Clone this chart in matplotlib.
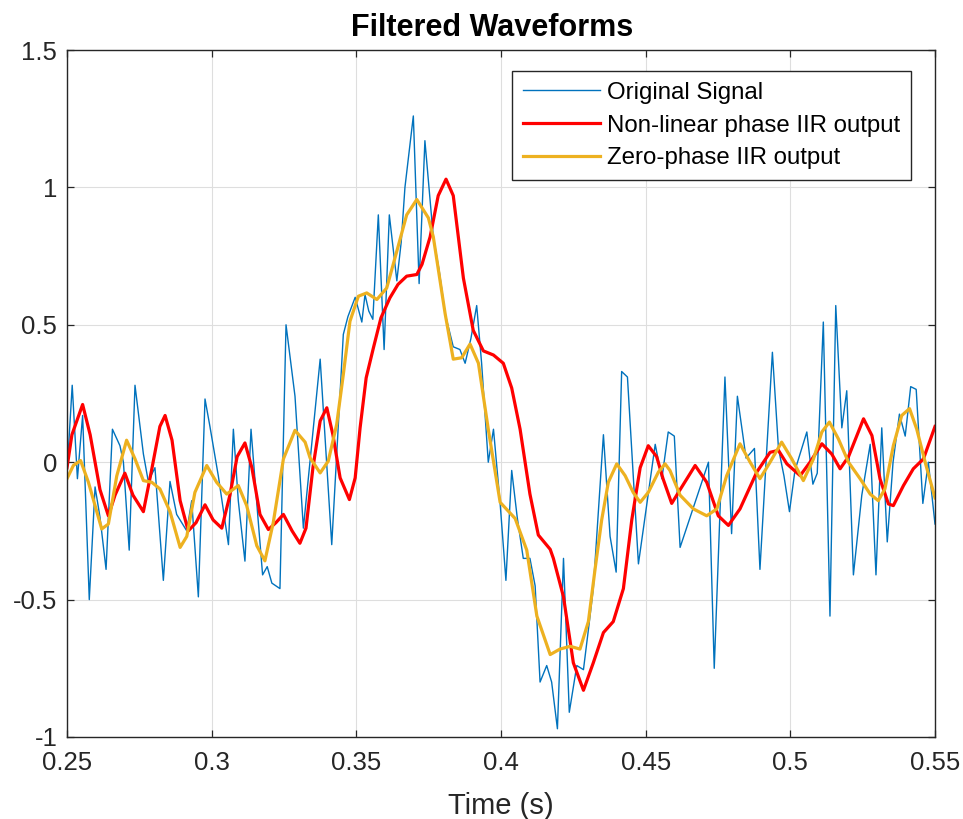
import numpy as np
import matplotlib
matplotlib.use("Agg")
import matplotlib.pyplot as plt

plt.rcParams['font.family'] = ['Liberation Sans', 'DejaVu Sans']
plt.rcParams['axes.unicode_minus'] = False

## Original (noisy) signal
t_orig = [0.2500, 0.2518, 0.2536, 0.2554, 0.2577, 0.2597, 0.2614, 0.2635, 0.2657, 0.2683,
          0.2695, 0.2715, 0.2735, 0.2764, 0.2781, 0.2804, 0.2833, 0.2856, 0.2879, 0.2914,
          0.2931, 0.2954, 0.2977, 0.2994, 0.3023, 0.3058, 0.3075, 0.3092, 0.3115, 0.3136,
          0.3156, 0.3176, 0.3192, 0.3208, 0.3236, 0.3257, 0.3288, 0.3317, 0.3375, 0.3415,
          0.3455, 0.3471, 0.3496, 0.3519, 0.3530, 0.3543, 0.3557, 0.3576, 0.3596, 0.3614,
          0.3640, 0.3655, 0.3668, 0.3697, 0.3717, 0.3737, 0.3766, 0.3786, 0.3807, 0.3835,
          0.3858, 0.3876, 0.3896, 0.3916, 0.3933, 0.3956, 0.3974, 0.3997, 0.4017, 0.4037,
          0.4056, 0.4077, 0.4100, 0.4118, 0.4135, 0.4158, 0.4175, 0.4195, 0.4216, 0.4236,
          0.4262, 0.4285, 0.4302, 0.4319, 0.4354, 0.4377, 0.4398, 0.4417, 0.4437, 0.4475,
          0.4533, 0.4556, 0.4578, 0.4599, 0.4619, 0.4717, 0.4737, 0.4774, 0.4797, 0.4817,
          0.4847, 0.4876, 0.4895, 0.4916, 0.4938, 0.4959, 0.4978, 0.4997, 0.5016, 0.5057,
          0.5078, 0.5093, 0.5114, 0.5137, 0.5157, 0.5178, 0.5195, 0.5218, 0.5247, 0.5276,
          0.5296, 0.5316, 0.5335, 0.5355, 0.5377, 0.5397, 0.5416, 0.5435, 0.5458, 0.5477,
          0.5500]
v_orig = [-0.04, 0.28, -0.06, 0.17, -0.50, -0.09, -0.20, -0.39, 0.12, 0.06,
          0.00, -0.32, 0.28, 0.03, -0.07, -0.02, -0.43, -0.07, -0.19, -0.25,
          -0.14, -0.49, 0.23, 0.13, -0.05, -0.30, 0.12, -0.14, -0.36, 0.12,
          -0.15, -0.41, -0.38, -0.44, -0.46, 0.50, 0.24, -0.24, 0.375, -0.30,
          0.465, 0.53, 0.60, 0.51, 0.61, 0.55, 0.52, 0.90, 0.41, 0.90,
          0.66, 0.80, 1.00, 1.26, 0.65, 1.17, 0.82, 0.70, 0.54, 0.42,
          0.41, 0.36, 0.45, 0.57, 0.36, 0.00, 0.12, -0.15, -0.43, -0.03,
          -0.20, -0.35, -0.35, -0.45, -0.80, -0.74, -0.80, -0.97, -0.35, -0.91,
          -0.74, -0.755, -0.61, -0.46, 0.10, -0.27, -0.40, 0.33, 0.31, -0.37,
          0.065, -0.06, 0.11, 0.095, -0.31, 0.00, -0.75, 0.31, -0.26, 0.24,
          0.015, 0.05, -0.39, 0.00, 0.40, 0.05, -0.05, -0.18, -0.03, 0.11,
          -0.08, -0.04, 0.51, -0.56, 0.57, 0.125, 0.26, -0.41, -0.12, 0.065,
          -0.41, 0.125, -0.29, 0.00, 0.175, 0.095, 0.275, 0.265, -0.15, 0.00,
          -0.225]

## Non-linear phase IIR output
t_iir = [0.2500, 0.2517, 0.2554, 0.2580, 0.2614, 0.2643, 0.2666, 0.2700, 0.2728, 0.2764,
         0.2794, 0.2821, 0.2839, 0.2863, 0.2891, 0.2919, 0.2946, 0.2977, 0.3005, 0.3035,
         0.3063, 0.3088, 0.3115, 0.3139, 0.3167, 0.3196, 0.3222, 0.3248, 0.3278, 0.3305,
         0.3326, 0.3350, 0.3375, 0.3398, 0.3419, 0.3444, 0.3476, 0.3496, 0.3513, 0.3534,
         0.3559, 0.3585, 0.3616, 0.3644, 0.3674, 0.3709, 0.3727, 0.3755, 0.3783, 0.3810,
         0.3835, 0.3870, 0.3904, 0.3939, 0.3974, 0.4008, 0.4037, 0.4066, 0.4100, 0.4129,
         0.4170, 0.4181, 0.4216, 0.4250, 0.4285, 0.4319, 0.4354, 0.4388, 0.4423, 0.4452,
         0.4481, 0.4509, 0.4538, 0.4560, 0.4590, 0.4619, 0.4671, 0.4711, 0.4751, 0.4786,
         0.4826, 0.4884, 0.4930, 0.4959, 0.4988, 0.5034, 0.5068, 0.5109, 0.5143, 0.5172,
         0.5201, 0.5253, 0.5282, 0.5310, 0.5339, 0.5356, 0.5391, 0.5425, 0.5460, 0.5500]
v_iir = [-0.02, 0.10, 0.21, 0.10, -0.10, -0.195, -0.12, -0.04, -0.12, -0.18,
         -0.02, 0.13, 0.17, 0.08, -0.14, -0.25, -0.22, -0.155, -0.21, -0.24,
         -0.12, 0.02, 0.07, -0.02, -0.19, -0.245, -0.22, -0.19, -0.25, -0.295,
         -0.24, -0.02, 0.15, 0.198, 0.10, -0.057, -0.136, -0.057, 0.125, 0.307,
         0.416, 0.525, 0.598, 0.647, 0.677, 0.683, 0.72, 0.82, 0.97, 1.03,
         0.97, 0.67, 0.48, 0.405, 0.39, 0.36, 0.27, 0.12, -0.116, -0.265,
         -0.317, -0.35, -0.49, -0.73, -0.83, -0.73, -0.62, -0.58, -0.46, -0.21,
         -0.02, 0.06, 0.02, -0.06, -0.15, -0.10, -0.012, -0.073, -0.195, -0.23,
         -0.17, -0.036, 0.036, 0.043, -0.006, -0.049, 0.0, 0.067, 0.03, -0.024,
         0.02, 0.158, 0.097, -0.061, -0.152, -0.158, -0.085, -0.024, 0.012, 0.13]

## Zero-phase IIR output
t_zp = [0.2500, 0.2522, 0.2547, 0.2574, 0.2603, 0.2620, 0.2643, 0.2672, 0.2706, 0.2735,
        0.2764, 0.2793, 0.2821, 0.2856, 0.2891, 0.2914, 0.2942, 0.2983, 0.3017, 0.3052,
        0.3092, 0.3121, 0.3156, 0.3184, 0.3213, 0.3248, 0.3288, 0.3323, 0.3340, 0.3375,
        0.3403, 0.3432, 0.3455, 0.3478, 0.3507, 0.3536, 0.3571, 0.3605, 0.3640, 0.3674,
        0.3709, 0.3749, 0.3766, 0.3807, 0.3835, 0.3864, 0.3893, 0.3922, 0.3956, 0.3997,
        0.4049, 0.4089, 0.4124, 0.4170, 0.4204, 0.4239, 0.4273, 0.4302, 0.4325, 0.4348,
        0.4371, 0.4400, 0.4429, 0.4457, 0.4481, 0.4509, 0.4544, 0.4567, 0.4584, 0.4619,
        0.4665, 0.4711, 0.4746, 0.4780, 0.4826, 0.4861, 0.4895, 0.4930, 0.4970, 0.5005,
        0.5045, 0.5080, 0.5109, 0.5135, 0.5166, 0.5201, 0.5241, 0.5276, 0.5304, 0.5327,
        0.5356, 0.5385, 0.5412, 0.5437, 0.5466, 0.5500]
v_zp = [-0.06, -0.012, 0.006, -0.073, -0.18, -0.243, -0.225, -0.05, 0.08, 0.012,
        -0.067, -0.073, -0.097, -0.18, -0.31, -0.27, -0.11, -0.012, -0.073, -0.116,
        -0.085, -0.158, -0.304, -0.359, -0.219, 0.012, 0.116, 0.073, 0.016, -0.039,
        0.004, 0.137, 0.319, 0.513, 0.604, 0.616, 0.592, 0.634, 0.768, 0.90,
        0.956, 0.889, 0.82, 0.54, 0.375, 0.38, 0.43, 0.36, 0.12, -0.146,
        -0.205, -0.32, -0.56, -0.70, -0.68, -0.67, -0.68, -0.58, -0.39, -0.21,
        -0.073, -0.006, -0.049, -0.11, -0.146, -0.11, -0.036, -0.006, -0.03, -0.12,
        -0.17, -0.195, -0.17, -0.049, 0.067, 0.0, -0.06, 0.0, 0.073, 0.012,
        -0.067, 0.012, 0.11, 0.146, 0.085, 0.0, -0.06, -0.116, -0.14, -0.097,
        0.06, 0.17, 0.195, 0.12, 0.0, -0.13]

xticks = [0.25, 0.3, 0.35, 0.4, 0.45, 0.5, 0.55]
xticklabels = ['0.25', '0.3', '0.35', '0.4', '0.45', '0.5', '0.55']
yticks = [-1, -0.5, 0, 0.5, 1, 1.5]
yticklabels = ['-1', '-0.5', '0', '0.5', '1', '1.5']

fig = plt.figure(figsize=(9.63, 8.19), dpi=100)
ax = fig.add_axes([67/963, 82/819, 868/963, 687/819])

ax.plot(t_orig, v_orig, color='#0072BD', lw=1.0, label='Original Signal')
ax.plot(t_iir, v_iir, color='#FF0000', lw=2.3, solid_joinstyle='round', label='Non-linear phase IIR output')
ax.plot(t_zp, v_zp, color='#EDB120', lw=2.3, solid_joinstyle='round', label='Zero-phase IIR output')

ax.set_xlim(0.25, 0.55)
ax.set_ylim(-1, 1.5)
ax.set_xticks(xticks)
ax.set_xticklabels(xticklabels)
ax.set_yticks(yticks)
ax.set_yticklabels(yticklabels)

ax.grid(True, color='#dedede', lw=0.8)
ax.set_axisbelow(True)
ax.tick_params(direction='in', length=5, width=0.9, top=True, right=True,
               labelsize=18.5, colors='#262626')
ax.tick_params(axis='x', pad=10)
ax.tick_params(axis='y', pad=7)
for s in ax.spines.values():
    s.set_color('#262626')
    s.set_linewidth(1.0)

ax.set_title('Filtered Waveforms', fontsize=22, fontweight='bold', color='black', pad=10,
             x=0.49)
ax.set_xlabel('Time (s)', fontsize=21, color='#262626', labelpad=12)

leg = ax.legend(loc='upper right', bbox_to_anchor=(0.9724, 0.9694), borderaxespad=0,
                fontsize=17.3, fancybox=False, framealpha=1, edgecolor='#262626',
                handlelength=3.2, handletextpad=0.3, labelspacing=0.45, borderpad=0.45)
leg.get_frame().set_linewidth(1.0)

plt.savefig('out.png', dpi=100)
